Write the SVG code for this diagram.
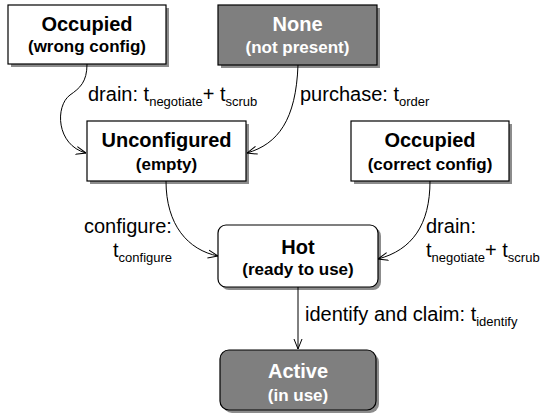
<svg xmlns="http://www.w3.org/2000/svg" width="543" height="415" viewBox="0 0 543 415">
  <defs>
    <marker id="arr" viewBox="0 0 10 10" refX="10" refY="5" markerWidth="10" markerHeight="10" markerUnits="userSpaceOnUse" orient="auto">
      <path d="M0,1 L10,5 L0,9" fill="none" stroke="#000" stroke-width="1"/>
    </marker>
  </defs>
  <style>
    .box { fill: #fff; stroke: #000; stroke-width: 1.2; }
    .dark { fill: #7f7f7f; stroke: #000; stroke-width: 1.2; }
    .shadow { fill: #8c8c8c; }
    .t1 { font-family: "Liberation Sans", Arial, sans-serif; font-weight: bold; font-size: 20px; text-anchor: middle; fill: #000; }
    .t2 { font-family: "Liberation Sans", Arial, sans-serif; font-weight: bold; font-size: 17px; text-anchor: middle; fill: #000; }
    .w { fill: #fff; }
    .lbl { font-family: "Liberation Sans", Arial, sans-serif; font-size: 20px; fill: #000; }
    .sub { font-size: 13px; }
    .edge { fill: none; stroke: #000; stroke-width: 1; marker-end: url(#arr); }
  </style>
  <rect width="543" height="415" fill="#fff"/>

  <g id="node-occupied-wrong">
    <rect class="shadow" x="11" y="8" width="158" height="59"/>
    <rect class="box" x="8" y="5" width="158" height="59"/>
    <text class="t1" x="87" y="31">Occupied</text>
    <text class="t2" x="87" y="52">(wrong config)</text>
  </g>

  <g id="node-none">
    <rect class="shadow" x="221" y="8" width="159" height="60"/>
    <rect class="dark" x="218" y="5" width="159" height="60"/>
    <text class="t1 w" x="297.5" y="31">None</text>
    <text class="t2 w" x="297.5" y="53">(not present)</text>
  </g>

  <g id="node-unconfigured">
    <rect class="shadow" x="90" y="124" width="159" height="60"/>
    <rect class="box" x="87" y="121" width="159" height="60"/>
    <text class="t1" x="166.5" y="147">Unconfigured</text>
    <text class="t2" x="166.5" y="170">(empty)</text>
  </g>

  <g id="node-occupied-correct">
    <rect class="shadow" x="354" y="124" width="158" height="60"/>
    <rect class="box" x="351" y="121" width="158" height="60"/>
    <text class="t1" x="430" y="147">Occupied</text>
    <text class="t2" x="430" y="170">(correct config)</text>
  </g>

  <g id="node-hot">
    <rect class="shadow" x="221" y="228" width="160" height="62" rx="8"/>
    <rect class="box" x="218" y="225" width="160" height="62" rx="8"/>
    <text class="t1" x="298" y="254">Hot</text>
    <text class="t2" x="298" y="275">(ready to use)</text>
  </g>

  <g id="node-active">
    <rect class="shadow" x="223" y="353" width="156" height="60" rx="9"/>
    <rect class="dark" x="220" y="350" width="156" height="60" rx="9" stroke-width="4"/>
    <text class="t1 w" x="298" y="378">Active</text>
    <text class="t2 w" x="298" y="401">(in use)</text>
  </g>

  <g id="connectors">
    <path class="edge" d="M87,64 C87,82 80,88 70,95 C55,106 56,145 86,153"/>
    <path class="edge" d="M298,65 C296,120 278,144 247,153"/>
    <path class="edge" d="M166,181 C166,225 188,250 218,256"/>
    <path class="edge" d="M430,181 C430,225 412,250 378,259"/>
    <path class="edge" d="M298,287 L298,349"/>
  </g>

  <g id="labels">
    <text class="lbl" x="88" y="101">drain: t<tspan class="sub" dy="5">negotiate</tspan><tspan dy="-5">+ t</tspan><tspan class="sub" dy="5">scrub</tspan></text>
    <text class="lbl" x="300" y="101">purchase: t<tspan class="sub" dy="5">order</tspan></text>
    <text class="lbl" x="84" y="233">configure:</text>
    <text class="lbl" x="113" y="257">t<tspan class="sub" dy="5">configure</tspan></text>
    <text class="lbl" x="426" y="233">drain:</text>
    <text class="lbl" x="426" y="257">t<tspan class="sub" dy="5">negotiate</tspan><tspan dy="-5">+ t</tspan><tspan class="sub" dy="5">scrub</tspan></text>
    <text class="lbl" x="305" y="321">identify and claim: t<tspan class="sub" dy="5">identify</tspan></text>
  </g>
</svg>
